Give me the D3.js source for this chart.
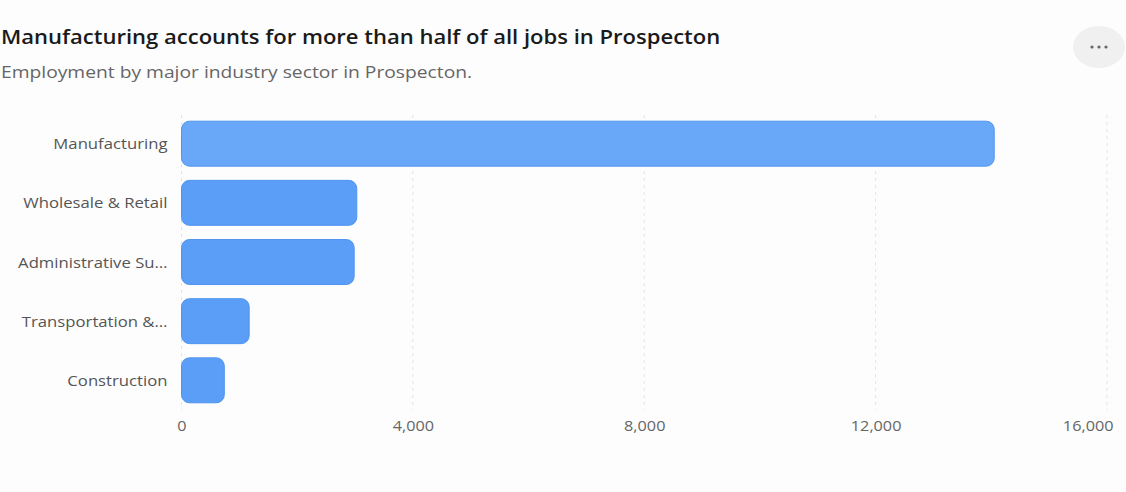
<!DOCTYPE html>
<html>
<head>
<meta charset="utf-8">
<script src="https://cdn.jsdelivr.net/npm/d3@7"></script>
<style>
  html, body { margin: 0; padding: 0; background: #fdfdfd; }
  svg { display: block; font-family: "Open Sans", "Noto Sans", sans-serif; }
</style>
</head>
<body>
<svg id="chart" width="1126" height="492"></svg>
<script>
const categories = ['Manufacturing', 'Wholesale & Retail', 'Administrative Su\u2026', 'Transportation &\u2026', 'Construction'];
const jobs = [14050, 3030, 2985, 1170, 740];
const tickValues = [0, 4000, 8000, 12000, 16000];

// the reference text is drawn a bit wider than Open Sans
const stretch = 1.16;

function drawChart() {
  const svg = d3.select('#chart');

  const width = 1126,
    height = 492,
    margin = {top: 107, right: 19, bottom: 75, left: 181.5};

  svg.append('rect')
    .attr('width', width)
    .attr('height', height)
    .attr('fill', '#fdfdfd');

  svg.append('text')
    .attr('transform', `translate(1, 44) scale(${stretch}, 1)`)
    .attr('font-size', 19)
    .attr('font-weight', 600)
    .attr('fill', '#1a1a1a')
    .text('Manufacturing accounts for more than half of all jobs in Prospecton');

  svg.append('text')
    .attr('transform', `translate(1, 77.5) scale(${stretch}, 1)`)
    .attr('font-size', 16.6)
    .attr('fill', '#666')
    .text('Employment by major industry sector in Prospecton.');

  // menu button
  const btn = svg.append('g').attr('transform', 'translate(1099, 47)');
  btn.append('ellipse')
    .attr('rx', 26)
    .attr('ry', 21)
    .attr('fill', '#f0f0f0');
  btn.selectAll('circle')
    .data([-7, 0, 7])
    .join('circle')
      .attr('cx', d => d)
      .attr('r', 1.6)
      .attr('fill', '#666');

  const x = d3.scaleLinear()
    .domain([0, 16000])
    .range([margin.left, width - margin.right]);

  const y = d3.scaleBand()
    .domain(categories)
    .range([margin.top, height - margin.bottom])
    .padding(0.24);

  svg.append('g')
    .attr('class', 'grid')
    .selectAll('line')
    .data(tickValues)
    .join('line')
      .attr('x1', d => x(d))
      .attr('x2', d => x(d))
      .attr('y1', 115)
      .attr('y2', 410)
      .attr('stroke', '#e3e3e3')
      .attr('stroke-dasharray', '3,4');

  const xAxis = svg.append('g')
    .attr('class', 'axis')
    .attr('transform', `translate(0, 421)`)
    .call(d3.axisBottom(x).tickValues(tickValues).tickFormat(d3.format(',')).tickSize(0).tickPadding(0));
  xAxis.select('.domain').remove();
  xAxis.selectAll('text')
    .attr('font-family', '"Open Sans", "Noto Sans", sans-serif')
    .attr('font-size', 14)
    .attr('fill', '#666')
    .attr('dy', '0.71em')
    .attr('text-anchor', (d, i) => i === tickValues.length - 1 ? 'end' : 'middle')
    .attr('transform', (d, i) => i === tickValues.length - 1
      ? `translate(6, 0) scale(${stretch}, 1)` : `scale(${stretch}, 1)`);

  const yAxis = svg.append('g')
    .attr('class', 'axis')
    .attr('transform', `translate(${margin.left - 14}, 1)`)
    .call(d3.axisLeft(y).tickSize(0).tickPadding(0));
  yAxis.select('.domain').remove();
  yAxis.selectAll('text')
    .attr('font-family', '"Open Sans", "Noto Sans", sans-serif')
    .attr('font-size', 14.4)
    .attr('fill', '#555')
    .attr('transform', `scale(${stretch}, 1)`);

  svg.selectAll('rect.bar')
      .data(categories)
    .join('rect')
      .attr('class', 'bar')
      .attr('x', x(0))
      .attr('y', d => y(d))
      .attr('width', (d, i) => x(jobs[i]) - x(0))
      .attr('height', y.bandwidth())
      .attr('rx', 8)
      .attr('fill', (d, i) => i === 0 ? '#69a7f8' : '#5b9ef8')
      .attr('stroke', '#4f94f0')
      .attr('stroke-width', 1);
}

drawChart();
</script>
</body>
</html>
